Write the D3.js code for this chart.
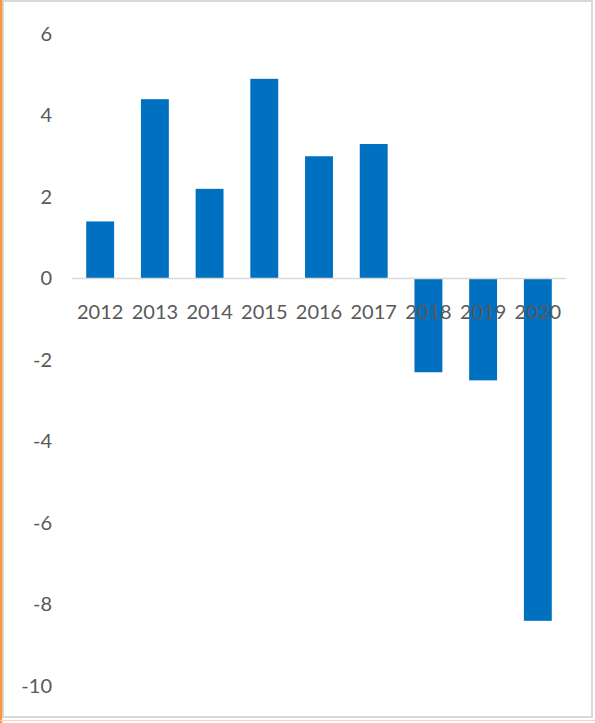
<!DOCTYPE html>
<html>
<head>
<meta charset="utf-8">
<script src="https://cdn.jsdelivr.net/npm/d3@7"></script>
<style>
  html, body { margin: 0; padding: 0; background: #fff; }
  svg { display: block; }
  .axis text { font-family: Lato, "Open Sans", sans-serif; font-size: 20px; fill: #595959; }
</style>
</head>
<body>
<div class="chart"></div>
<script>
// data
const years = ['2012', '2013', '2014', '2015', '2016', '2017', '2018', '2019', '2020'];
const growth = [1.4, 4.4, 2.2, 4.9, 3.0, 3.3, -2.3, -2.5, -8.4];
const yTicks = [6, 4, 2, 0, -2, -4, -6, -8, -10];

const outerW = 595,
	outerH = 723;

const margin = { left: 72, right: 29, top: 34, bottom: 37 };
const w = outerW - margin.left - margin.right,
	h = outerH - margin.top - margin.bottom;

const svg = d3.select('.chart').append('svg')
	.attr('width', outerW)
	.attr('height', outerH);

// frame of the pasted chart
svg.append('rect')
	.attr('x', 3).attr('y', 1)
	.attr('width', 589).attr('height', 716)
	.attr('fill', '#fff')
	.attr('stroke', '#d9d9d9')
	.attr('stroke-width', 2);
svg.append('line')
	.attr('x1', 1).attr('x2', 1).attr('y1', 0).attr('y2', 723)
	.attr('stroke', '#f79646').attr('stroke-width', 2.5);
svg.append('line')
	.attr('x1', 0).attr('x2', 595).attr('y1', 720.5).attr('y2', 720.5)
	.attr('stroke', '#fbd5b5').attr('stroke-width', 1);

const g = svg.append('g')
	.attr('transform', `translate(${margin.left}, ${margin.top})`);

const x = d3.scaleBand().domain(years).range([0, w]).paddingInner(0.49).paddingOuter(0.26);
const y = d3.scaleLinear().domain([6, -10]).range([0, h]);

// y axis labels only
const yAxis = g.append('g')
	.attr('class', 'y axis')
	.call(d3.axisLeft(y).tickValues(yTicks).tickSize(0).tickPadding(20).tickFormat(d3.format('d')));
yAxis.select('.domain').remove();
yAxis.selectAll('text').text(d => d < 0 ? '-' + Math.abs(d) : d);

// bars
g.selectAll('.bar')
	.data(years.map((d, i) => ({ year: d, v: growth[i] })))
	.enter().append('rect')
	.attr('class', 'bar')
	.attr('x', d => x(d.year))
	.attr('y', d => y(Math.max(0, d.v)))
	.attr('width', x.bandwidth())
	.attr('height', d => Math.abs(y(d.v) - y(0)))
	.attr('fill', '#0070c0');

// zero line
g.append('line')
	.attr('x1', 0).attr('x2', w)
	.attr('y1', y(0)).attr('y2', y(0))
	.attr('stroke', '#d9d9d9').attr('stroke-width', 1.5);

// category labels sit just below zero, drawn over the negative bars
const xAxis = g.append('g')
	.attr('class', 'x axis')
	.attr('transform', `translate(0, ${y(0)})`)
	.call(d3.axisBottom(x).tickSize(0).tickPadding(24));
xAxis.select('.domain').remove();
xAxis.selectAll('text').attr('dy', '0.32em').attr('y', 34);
</script>
</body>
</html>
